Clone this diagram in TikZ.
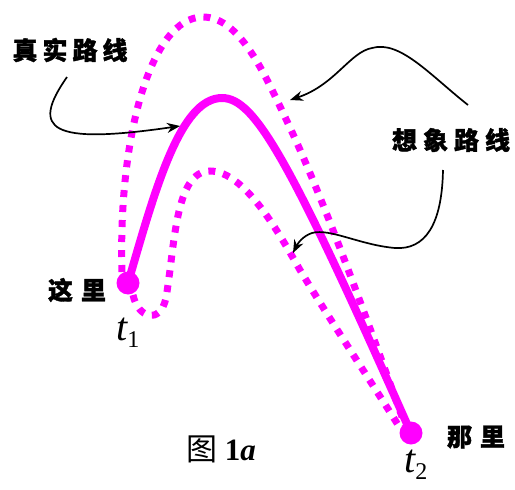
\documentclass[tikz,border=0pt]{standalone}
\usepackage{fontspec}
\setmainfont{Liberation Serif}
\newfontfamily\cjk[BoldFeatures={FakeBold=1.5}]{Noto Sans CJK SC}
\usetikzlibrary{arrows.meta}
\definecolor{mag}{HTML}{FF00FF}
\tikzset{
  realpath/.style={mag, line width=8pt, line cap=round},
  imagpath/.style={mag, line width=7pt, dash pattern=on 7pt off 8pt},
  pin/.style={fill=mag, draw=none, circle, minimum size=23pt, inner sep=0pt},
  callout/.style={black, line width=1.7pt, -{Stealth[length=13pt,width=10pt]}},
  lbl/.style={font=\cjk\bfseries\fontsize{25}{27}\selectfont, inner sep=0pt},
  tlbl/.style={font=\fontsize{40}{44}\selectfont\itshape, inner sep=0pt}
}
\newcommand{\tsub}[2]{#1\raisebox{-7pt}{\fontsize{24}{26}\selectfont\upshape #2}}
\begin{document}
\begin{tikzpicture}[x=1pt,y=-1pt]
\useasboundingbox (0,0) rectangle (515,490);
% outer imagined path
\draw[imagpath] (122,272) .. controls (118,140) and (150,17) .. (203,17)
  .. controls (240,17) and (265,75) .. (285,117)
  .. controls (320,190) and (360,300) .. (405,425);
% inner imagined path
\draw[imagpath] (133,295) .. controls (138,318) and (160,325) .. (166,298)
  .. controls (175,245) and (175,171) .. (210,171)
  .. controls (245,171) and (280,235) .. (300,270)
  .. controls (330,320) and (370,380) .. (400,428);
% real path
\draw[realpath] (128,283) .. controls (155,190) and (180,98) .. (222,98)
  .. controls (255,98) and (290,160) .. (411,433);
\node[pin] (t1) at (128,283) {};
\node[pin] (t2) at (411,433) {};
% labels
\node[lbl] (real) at (70,50) {真\hspace{5pt}实\hspace{5pt}路\hspace{5pt}线};
\node[lbl] (imag) at (451,140) {想\hspace{6pt}象\hspace{6pt}路\hspace{6pt}线};
\node[lbl] (here) at (77,290) {这\hspace{8pt}里};
\node[lbl] (there) at (476,437) {那\hspace{8pt}里};
\node[tlbl, anchor=west] (lt1) at (116,333) {\tsub{t}{1}};
\node[tlbl, anchor=west] (lt2) at (404,465) {\tsub{t}{2}};
\node[inner sep=0pt, font=\fontsize{31}{33}\selectfont] (cap) at (221,449) {{\cjk 图} \textbf{1\textit{a}}};
% callouts
\coordinate (a1) at (67,77);
\coordinate (a2) at (468,105);
\coordinate (a3) at (443,170);
\draw[callout] (a1) .. controls (30,130) and (50,145) .. (180,126);
\draw[callout] (a2) .. controls (430,75) and (400,40) .. (372,48)
  .. controls (350,52) and (335,85) .. (290,100);
\draw[callout] (a3) .. controls (442,225) and (425,250) .. (395,248)
  .. controls (360,245) and (330,228) .. (312,233)
  .. controls (303,236) and (298,243) .. (293,253);
\end{tikzpicture}
\end{document}
